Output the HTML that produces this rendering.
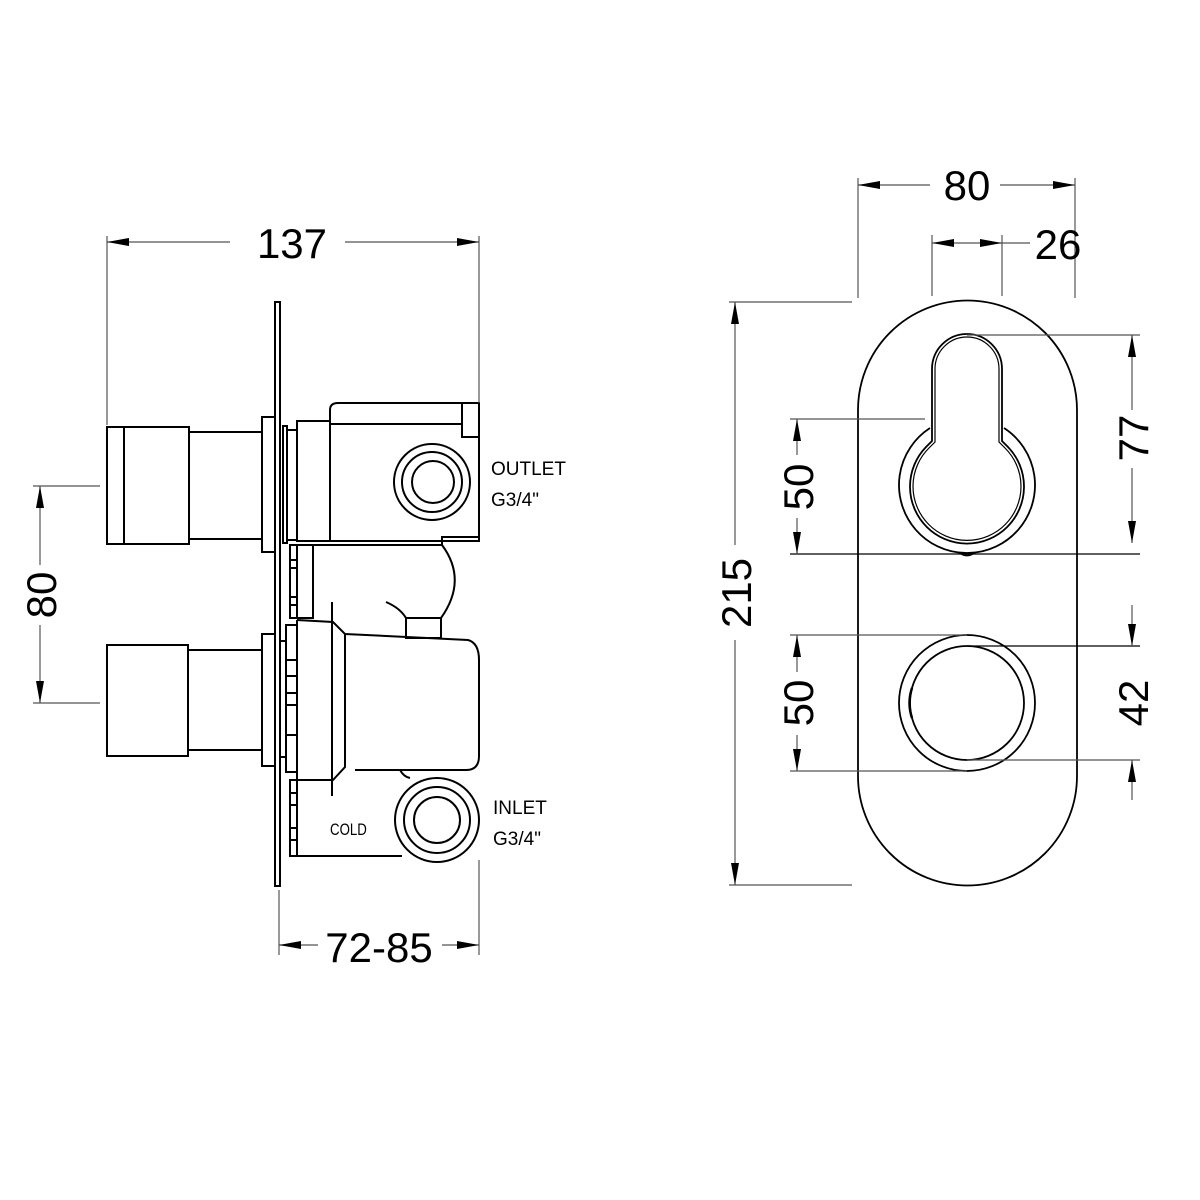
<!DOCTYPE html>
<html><head><meta charset="utf-8"><style>
html,body{margin:0;padding:0;background:#fff;}
svg{display:block;}
text{font-family:"Liberation Sans",sans-serif;fill:#000;}
</style></head><body>
<svg width="1200" height="1200" viewBox="0 0 1200 1200" xmlns="http://www.w3.org/2000/svg">
<defs>
<marker id="a" viewBox="0 0 22 8" refX="22" refY="4" markerWidth="22" markerHeight="8" markerUnits="userSpaceOnUse" orient="auto-start-reverse"><path d="M0,0 L22,4 L0,8 Z" fill="#000"/></marker>
</defs>
<g fill="none" stroke="#000" stroke-width="2">
<rect x="275" y="302" width="5" height="584" stroke-width="2"/>
<rect x="107" y="427" width="82" height="117"/>
<line x1="124" y1="427" x2="124" y2="544"/>
<rect x="189" y="432" width="73" height="107"/>
<rect x="262" y="417" width="13" height="135"/>
<rect x="283" y="426" width="4" height="117"/>
<rect x="287" y="430" width="10" height="110"/>
<rect x="297" y="421" width="33" height="120"/>
<path d="M330,541 L330,410 Q330,403 338,403 L479,403 L479,541 Z"/>
<line x1="330" y1="424" x2="462" y2="424"/>
<rect x="462" y="403" width="17" height="34"/>
<circle cx="432" cy="482" r="38"/>
<circle cx="432" cy="482" r="30"/>
<circle cx="433" cy="482" r="21"/>
<rect x="290" y="545" width="7" height="73"/>
<line x1="290" y1="560" x2="297" y2="560"/>
<line x1="290" y1="568" x2="297" y2="568"/>
<line x1="290" y1="597" x2="297" y2="597"/>
<line x1="290" y1="605" x2="297" y2="605"/>
<rect x="297" y="545" width="16" height="73"/>
<path d="M297,545 L442,545 L442,537 L479,537"/>
<path d="M442,545 Q468,580 441,618"/>
<rect x="406" y="618" width="35" height="20"/>
<path d="M386,602 Q400,608 406,618"/>
<rect x="107" y="645" width="81" height="111"/>
<rect x="188" y="650" width="74" height="100"/>
<rect x="262" y="634" width="13" height="132"/>
<rect x="280" y="641" width="6" height="116"/>
<rect x="286" y="625" width="11" height="147"/>
<line x1="286" y1="660" x2="297" y2="660"/>
<line x1="286" y1="676" x2="297" y2="676"/>
<line x1="286" y1="693" x2="297" y2="693"/>
<line x1="286" y1="705" x2="297" y2="705"/>
<line x1="286" y1="735" x2="297" y2="735"/>
<path d="M297,620 L333,622 L345,634 L468,640 Q479,643 479,660 L479,756 Q479,770 466,770 L355,770"/>
<path d="M297,780 L333,780 L345,767 L345,634"/>
<path d="M400,770 Q404,777 410,778"/>
<line x1="332" y1="602" x2="332" y2="796"/>
<path d="M297,620 L297,780"/>
<rect x="290" y="780" width="7" height="76"/>
<line x1="290" y1="793" x2="297" y2="793"/>
<line x1="290" y1="805" x2="297" y2="805"/>
<line x1="290" y1="828" x2="297" y2="828"/>
<line x1="290" y1="840" x2="297" y2="840"/>
<path d="M297,780 L297,856 L402,856"/>
<circle cx="437" cy="820" r="42"/>
<circle cx="437" cy="820" r="33"/>
<circle cx="437" cy="820" r="23"/>
</g>
<g stroke="#555" stroke-width="1.2" fill="none">
<line x1="107" y1="236" x2="107" y2="425"/>
<line x1="479" y1="236" x2="479" y2="403"/>
<line x1="230" y1="242" x2="107" y2="242" marker-end="url(#a)"/>
<line x1="345" y1="242" x2="479" y2="242" marker-end="url(#a)"/>
<line x1="33" y1="486" x2="100" y2="486"/>
<line x1="33" y1="703" x2="100" y2="703"/>
<line x1="40" y1="565" x2="40" y2="486" marker-end="url(#a)"/>
<line x1="40" y1="625" x2="40" y2="703" marker-end="url(#a)"/>
<line x1="279" y1="890" x2="279" y2="955"/>
<line x1="479" y1="860" x2="479" y2="955"/>
<line x1="318" y1="945" x2="279" y2="945" marker-end="url(#a)"/>
<line x1="442" y1="945" x2="479" y2="945" marker-end="url(#a)"/>
</g>
<text x="292" y="258" font-size="42" text-anchor="middle">137</text>
<text transform="translate(56,595) rotate(-90)" font-size="42" text-anchor="middle">80</text>
<text x="379" y="962" font-size="42" text-anchor="middle">72-85</text>
<text x="491" y="475" font-size="19">OUTLET</text>
<text x="491" y="506" font-size="19">G3/4"</text>
<text x="493" y="814" font-size="19">INLET</text>
<text x="493" y="845" font-size="19">G3/4"</text>
<text font-size="17" transform="translate(330,835) scale(0.78,1)">COLD</text>

<g fill="none" stroke="#000" stroke-width="1.8">
<path d="M858,410 A109.5,109.5 0 0 1 1077,410 L1077,776 A109.5,109.5 0 0 1 858,776 Z"/>
<path d="M930,428 A68,68 0 1 0 1004,428"/>
<path d="M932,441 L932,369 A35,35 0 0 1 1002,369 L1002,441 L1008,447 A57,57 0 1 1 926,447 Z"/>
<path d="M935,442 L935,369 A32,32 0 0 1 999,369 L999,442 L1005,448 A54,54 0 1 1 929,448 Z" stroke-width="1.2"/>
<path d="M960,553 Q967,558 974,553"/>
<circle cx="967" cy="703" r="68"/>
<circle cx="967" cy="703" r="57"/>
<path d="M912,688 Q907,703 912,718" stroke-width="2.5"/>
</g>
<g stroke="#555" stroke-width="1.2" fill="none">
<line x1="858" y1="178" x2="858" y2="298"/>
<line x1="1075" y1="178" x2="1075" y2="298"/>
<line x1="930" y1="185" x2="858" y2="185" marker-end="url(#a)"/>
<line x1="1000" y1="185" x2="1075" y2="185" marker-end="url(#a)"/>
<line x1="932" y1="235" x2="932" y2="296"/>
<line x1="1002" y1="235" x2="1002" y2="296"/>
<line x1="967" y1="243" x2="932" y2="243" marker-end="url(#a)"/>
<line x1="967" y1="243" x2="1002" y2="243" marker-end="url(#a)"/>
<line x1="1002" y1="243" x2="1030" y2="243"/>
<line x1="729" y1="302" x2="852" y2="302"/>
<line x1="729" y1="885" x2="852" y2="885"/>
<line x1="735" y1="545" x2="735" y2="302" marker-end="url(#a)"/>
<line x1="735" y1="640" x2="735" y2="885" marker-end="url(#a)"/>
<line x1="790" y1="419" x2="925" y2="419"/>
<line x1="790" y1="554" x2="1140" y2="554" stroke="#000"/>
<line x1="797" y1="455" x2="797" y2="419" marker-end="url(#a)"/>
<line x1="797" y1="518" x2="797" y2="554" marker-end="url(#a)"/>
<line x1="967" y1="335" x2="1140" y2="335"/>
<line x1="1132" y1="410" x2="1132" y2="335" marker-end="url(#a)"/>
<line x1="1132" y1="468" x2="1132" y2="543" marker-end="url(#a)"/>
<line x1="790" y1="635" x2="967" y2="635"/>
<line x1="790" y1="771" x2="967" y2="771"/>
<line x1="797" y1="672" x2="797" y2="635" marker-end="url(#a)"/>
<line x1="797" y1="735" x2="797" y2="771" marker-end="url(#a)"/>
<line x1="967" y1="646" x2="1140" y2="646" stroke="#000"/>
<line x1="967" y1="760" x2="1140" y2="760"/>
<line x1="1132" y1="605" x2="1132" y2="646" marker-end="url(#a)"/>
<line x1="1132" y1="800" x2="1132" y2="760" marker-end="url(#a)"/>
</g>
<text x="967" y="200" font-size="42" text-anchor="middle">80</text>
<text x="1058" y="259" font-size="42" text-anchor="middle">26</text>
<text transform="translate(751,593) rotate(-90)" font-size="42" text-anchor="middle">215</text>
<text transform="translate(813,487) rotate(-90)" font-size="42" text-anchor="middle">50</text>
<text transform="translate(1148,438) rotate(-90)" font-size="42" text-anchor="middle">77</text>
<text transform="translate(813,703) rotate(-90)" font-size="42" text-anchor="middle">50</text>
<text transform="translate(1148,703) rotate(-90)" font-size="42" text-anchor="middle">42</text>
</svg>
</body></html>
